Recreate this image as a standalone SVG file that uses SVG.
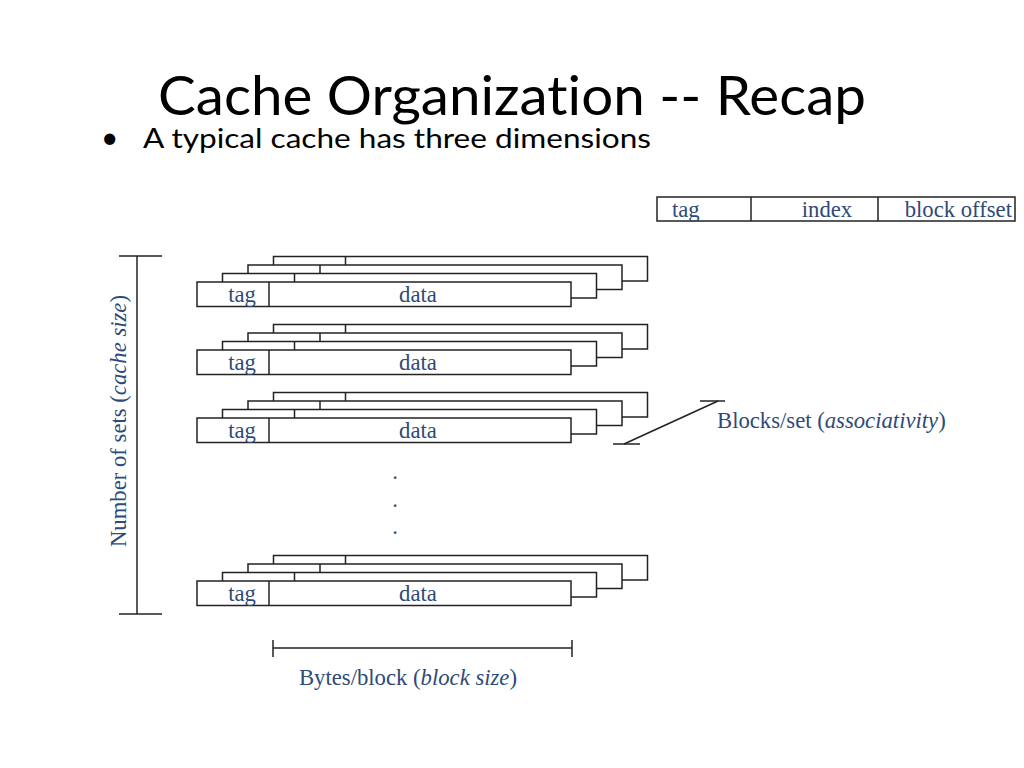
<svg xmlns="http://www.w3.org/2000/svg" xmlns:xlink="http://www.w3.org/1999/xlink" width="1024" height="768" viewBox="0 0 1024 768">
<style>
.blk{fill:#fff;stroke:#222;stroke-width:1.5}
.ln{stroke:#222;stroke-width:1.5;fill:none}
.lbl{font-family:"Liberation Serif","Times New Roman",serif;font-size:22.7px;fill:#2e4a78}
.it{font-style:italic}
.title{font-family:Lato,"Liberation Sans",Arial,sans-serif;fill:#000;font-variant-ligatures:none}
</style>
<defs>
<g id="blockShape">
<rect class="blk" x="0" y="0" width="374" height="24.5"/>
<line class="ln" x1="72" y1="0" x2="72" y2="24.5"/>
</g>
</defs>
<rect width="1024" height="768" fill="#fff"/>
<text class="title" x="512" y="115" font-size="54" text-anchor="middle" textLength="708" lengthAdjust="spacingAndGlyphs">Cache Organization -- Recap</text>
<text class="title" x="101" y="148" font-size="30">•</text>
<text class="title" x="143" y="148" font-size="27" textLength="508" lengthAdjust="spacingAndGlyphs">A typical cache has three dimensions</text>

<g id="address">
<rect class="blk" x="657" y="197" width="358" height="24"/>
<line class="ln" x1="751" y1="197" x2="751" y2="221"/>
<line class="ln" x1="878" y1="197" x2="878" y2="221"/>
<text class="lbl" x="672" y="217">tag</text>
<text class="lbl" x="827" y="217" text-anchor="middle">index</text>
<text class="lbl" x="1012" y="217" text-anchor="end">block offset</text>
</g>

<g id="set1">
<use xlink:href="#blockShape" x="273.5" y="256.5"/>
<use xlink:href="#blockShape" x="248" y="265"/>
<use xlink:href="#blockShape" x="222.5" y="273.5"/>
<use xlink:href="#blockShape" x="197" y="282"/>
<text class="lbl" x="242" y="302" text-anchor="middle">tag</text>
<text class="lbl" x="418" y="302" text-anchor="middle">data</text>
</g>
<g id="set2">
<use xlink:href="#blockShape" x="273.5" y="324.5"/>
<use xlink:href="#blockShape" x="248" y="333"/>
<use xlink:href="#blockShape" x="222.5" y="341.5"/>
<use xlink:href="#blockShape" x="197" y="350"/>
<text class="lbl" x="242" y="370" text-anchor="middle">tag</text>
<text class="lbl" x="418" y="370" text-anchor="middle">data</text>
</g>
<g id="set3">
<use xlink:href="#blockShape" x="273.5" y="392.5"/>
<use xlink:href="#blockShape" x="248" y="401"/>
<use xlink:href="#blockShape" x="222.5" y="409.5"/>
<use xlink:href="#blockShape" x="197" y="418"/>
<text class="lbl" x="242" y="438" text-anchor="middle">tag</text>
<text class="lbl" x="418" y="438" text-anchor="middle">data</text>
</g>
<g id="dots">
<text class="lbl" x="395" y="479" text-anchor="middle">.</text>
<text class="lbl" x="395" y="507" text-anchor="middle">.</text>
<text class="lbl" x="395" y="534" text-anchor="middle">.</text>
</g>
<g id="set4">
<use xlink:href="#blockShape" x="273.5" y="555.5"/>
<use xlink:href="#blockShape" x="248" y="564"/>
<use xlink:href="#blockShape" x="222.5" y="572.5"/>
<use xlink:href="#blockShape" x="197" y="581"/>
<text class="lbl" x="242" y="601" text-anchor="middle">tag</text>
<text class="lbl" x="418" y="601" text-anchor="middle">data</text>
</g>

<g id="connectors">
<line class="ln" x1="137" y1="256" x2="137" y2="614"/>
<line class="ln" x1="119" y1="256" x2="162" y2="256"/>
<line class="ln" x1="119" y1="614" x2="162" y2="614"/>
<line class="ln" x1="273" y1="648" x2="572" y2="648"/>
<line class="ln" x1="273" y1="640" x2="273" y2="657"/>
<line class="ln" x1="572" y1="640" x2="572" y2="657"/>
<line class="ln" x1="624" y1="444" x2="718" y2="401"/>
<line class="ln" x1="700" y1="401" x2="725" y2="401"/>
<line class="ln" x1="613" y1="444" x2="640" y2="444"/>
</g>

<g id="labels">
<text class="lbl" transform="translate(126,421) rotate(-90)" text-anchor="middle">Number of sets (<tspan class="it">cache size</tspan>)</text>
<text class="lbl" x="408" y="685" text-anchor="middle">Bytes/block (<tspan class="it">block size</tspan>)</text>
<text class="lbl" x="717" y="428">Blocks/set (<tspan class="it">associativity</tspan>)</text>
</g>
</svg>
